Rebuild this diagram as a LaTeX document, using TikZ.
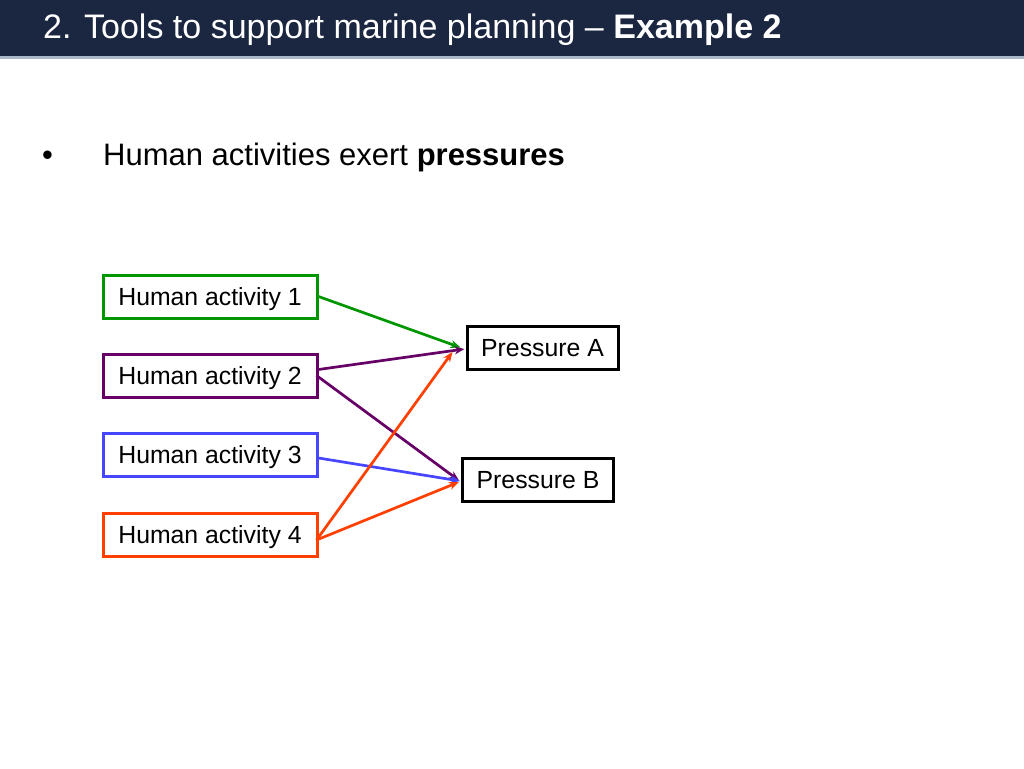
\documentclass[tikz,border=0pt]{standalone}
\usepackage{fontspec}
\setmainfont{Liberation Sans}
\usetikzlibrary{arrows.meta}
\definecolor{navy}{RGB}{27,38,65}
\definecolor{rule}{RGB}{170,184,200}
\definecolor{hgreen}{RGB}{0,150,0}
\definecolor{hpurple}{RGB}{102,0,102}
\definecolor{hblue}{RGB}{70,70,255}
\definecolor{horange}{RGB}{255,64,0}
\begin{document}
\begin{tikzpicture}[x=1pt,y=-1pt,
  actbox/.style={draw=#1,line width=3pt,minimum width=214pt,minimum height=43pt,inner sep=0pt,
    font=\fontsize{24.8pt}{28pt}\selectfont,text height=17.7pt,text depth=0pt},
  presbox/.style={draw=black,line width=3pt,minimum width=151pt,minimum height=43pt,inner sep=0pt,
    font=\fontsize{24.8pt}{28pt}\selectfont,text height=17.7pt,text depth=0pt},
  link/.style={draw=#1,line width=2.7pt,-{Stealth[length=10pt,width=8pt]}}]
\useasboundingbox (0,0) rectangle (1024,768);
\fill[white] (0,0) rectangle (1024,768);
\fill[navy] (0,0) rectangle (1024,57);
\fill[rule] (0,56) rectangle (1024,58.5);
\node[anchor=base west,inner sep=0pt,text=white,font=\fontsize{34pt}{38pt}\selectfont] (title) at (43,39)
  {2. Tools to support marine planning -- \textbf{Example 2}};
\node[anchor=base west,inner sep=0pt,font=\fontsize{31pt}{36pt}\selectfont] (bullet) at (42,165) {•};
\node[anchor=base west,inner sep=0pt,font=\fontsize{31pt}{36pt}\selectfont] (head) at (103,165)
  {Human activities exert \textbf{pressures}};
\node[actbox=hgreen] (h1) at (210,296.5) {Human activity 1};
\node[actbox=hpurple] (h2) at (210,375.5) {Human activity 2};
\node[actbox=hblue] (h3) at (210,454.5) {Human activity 3};
\node[actbox=horange] (h4) at (210,534.5) {Human activity 4};
\node[presbox] (pA) at (542.5,347.5) {Pressure A};
\node[presbox] (pB) at (538,479.5) {Pressure B};
\draw[link=hgreen] (h1.east) -- ([xshift=-5pt]pA.west);
\draw[link=hpurple] ([yshift=6pt]h2.east) -- ([xshift=-1pt,yshift=-1.5pt]pA.west);
\draw[link=hpurple] ([xshift=-2pt]h2.east) -- ([xshift=-2pt,yshift=-1pt]pB.west);
\draw[link=hblue] ([yshift=-3.5pt]h3.east) -- ([xshift=-1pt,yshift=-1.5pt]pB.west);
\draw[link=horange] ([xshift=-2pt,yshift=-5.5pt]h4.east) -- ([xshift=-13pt,yshift=-4.5pt]pA.west);
\draw[link=horange] ([xshift=-2pt,yshift=-5.5pt]h4.east) -- ([xshift=-2pt,yshift=-2.5pt]pB.west);
\end{tikzpicture}
\end{document}
